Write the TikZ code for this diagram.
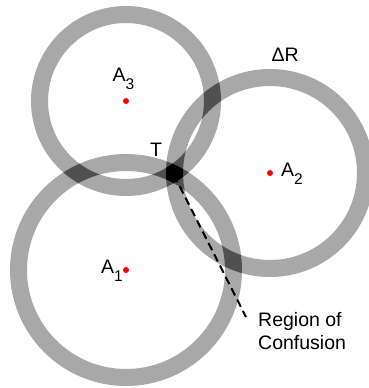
\documentclass[tikz,border=0pt]{standalone}
\usepackage{fontspec}
\setmainfont{Liberation Sans}
\definecolor{ringgray}{RGB}{168,168,168}
\definecolor{ringdark}{RGB}{80,80,80}
\newcommand\annclip[2]{\clip (#1) circle[radius=#2+8.5] (#1) ++(#2-8.5,0) arc[start angle=0,end angle=-360,radius=#2-8.5];}
\newcommand\lowsub[1]{\raisebox{-8pt}{\fontsize{15.5}{15.5}\selectfont #1}}
\begin{document}
\begin{tikzpicture}[x=1pt,y=-1pt,
  ring/.style={line width=17pt},
  dot/.style={circle,fill=red,draw=none,inner sep=0pt,minimum size=6pt},
  lbl/.style={anchor=base west,inner sep=0pt,font=\fontsize{19.5}{23}\selectfont},
  conn/.style={dash pattern=on 8pt off 4.7pt,line width=2pt}]
\useasboundingbox (0,0) rectangle (368,388);
\coordinate (c1) at (126,270);
\coordinate (c2) at (270,173);
\coordinate (c3) at (126,101);
% rings
\draw[ring,ringgray] (c1) circle[radius=107.5];
\draw[ring,ringgray] (c2) circle[radius=95.5];
\draw[ring,ringgray] (c3) circle[radius=86.5];
% pairwise overlaps
\begin{scope}\annclip{c1}{107.5}\draw[ring,ringdark] (c2) circle[radius=95.5];\end{scope}
\begin{scope}\annclip{c1}{107.5}\draw[ring,ringdark] (c3) circle[radius=86.5];\end{scope}
\begin{scope}\annclip{c2}{95.5}\draw[ring,ringdark] (c3) circle[radius=86.5];\end{scope}
% triple overlap
\begin{scope}\annclip{c1}{107.5}\annclip{c2}{95.5}\draw[ring,black] (c3) circle[radius=86.5];\end{scope}
% centres
\node[dot] (a1) at (c1) {};
\node[dot] (a2) at (c2) {};
\node[dot] (a3) at (c3) {};
% labels
\node[lbl] (l3) at (112.5,81) {A\lowsub{3}};
\node[lbl] (l2) at (281,176.7) {A\lowsub{2}};
\node[lbl] (l1) at (101,273) {A\lowsub{1}};
\node[lbl] (lt) at (150,156.7) {T};
\node[lbl] (ldr) at (271.5,61) {ΔR};
\node[lbl,align=left] (roc) at (258,349) {Region of\\Confusion};
% connector
\coordinate (tc) at (174,175);
\coordinate (re) at (246,317);
\draw[conn] (tc) -- (re);
\end{tikzpicture}
\end{document}
